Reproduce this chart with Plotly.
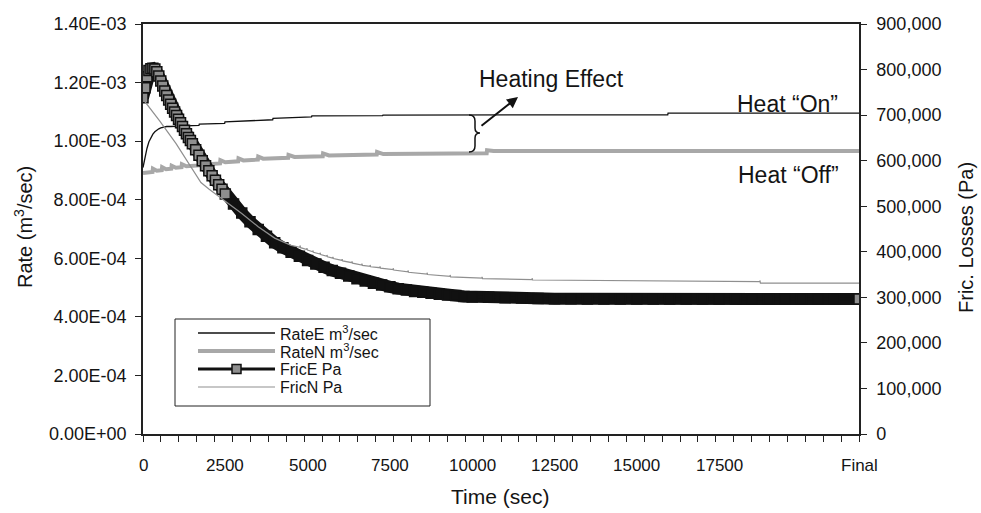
import plotly.graph_objects as go

# ---------------- data ----------------
# time axis labels
x_tick_vals = [0, 2500, 5000, 7500, 10000, 12500, 15000, 17500, 21750]
x_tick_text = ["0", "2500", "5000", "7500", "10000", "12500", "15000", "17500", "Final"]
t_final = 21750

y_left_vals = [0, 0.2e-3, 0.4e-3, 0.6e-3, 0.8e-3, 1.0e-3, 1.2e-3, 1.4e-3]
y_left_text = ["0.00E+00", "2.00E-04", "4.00E-04", "6.00E-04", "8.00E-04",
               "1.00E-03", "1.20E-03", "1.40E-03"]
y_right_vals = [0, 100000, 200000, 300000, 400000, 500000, 600000, 700000, 800000, 900000]
y_right_text = ["0", "100,000", "200,000", "300,000", "400,000", "500,000",
                "600,000", "700,000", "800,000", "900,000"]

series_names = ["RateE m<sup>3</sup>/sec", "RateN m<sup>3</sup>/sec", "FricE Pa", "FricN Pa"]

# RateE  (m3/sec, in units of 1E-03)
t_rateE = [0, 60, 120, 180, 240, 300, 360, 420, 480, 540, 600, 660, 720, 840, 960,
           1100, 1300, 1700, 1710, 2480, 2490, 3940, 3950, 5120, 5130, 7280, 7290,
           15940, 15950, 21750]
rateE_e3 = [0.910, 0.945, 0.975, 0.998, 1.013, 1.024, 1.032, 1.038, 1.042, 1.045,
            1.047, 1.049, 1.050, 1.050, 1.050, 1.051, 1.052, 1.054, 1.058, 1.061,
            1.066, 1.073, 1.078, 1.083, 1.086, 1.087, 1.089, 1.090, 1.096, 1.096]

# RateN  (m3/sec, in units of 1E-03)
t_rateN = [0, 290, 300, 420, 570, 580, 700, 860, 870, 1000, 1170, 1180, 1320,
           1690, 1700, 1850, 2340, 2350, 2500, 2890, 2900, 3050, 3490, 3500, 3650,
           4410, 4420, 4600, 5460, 5470, 5650, 7100, 7110, 7300, 10440, 10450,
           10650, 21750]
rateN_e3 = [0.891, 0.895, 0.906, 0.899, 0.901, 0.911, 0.904, 0.906, 0.916, 0.909,
            0.911, 0.921, 0.914, 0.917, 0.927, 0.920, 0.924, 0.935, 0.928, 0.931,
            0.941, 0.934, 0.937, 0.947, 0.940, 0.943, 0.953, 0.946, 0.948, 0.958,
            0.951, 0.954, 0.963, 0.956, 0.959, 0.969, 0.966, 0.966]

# FricE  (Pa, in thousands)
t_fricE = [0, 60, 120, 180, 240, 300, 360, 420, 480, 540, 600, 660, 720, 780, 840,
           900, 960, 1020, 1080, 1140, 1200, 1260, 1320, 1380, 1440, 1500, 1600,
           1700, 1800, 1900, 2000, 2100, 2200, 2300, 2400, 2500, 2750, 3000, 3250,
           3500, 3750, 4000, 4250, 4500, 4750, 5000, 5250, 5500, 5750, 6000, 6250,
           6500, 6750, 7000, 7250, 7500, 7750, 8000, 8250, 8500, 8750, 9000, 9250,
           9500, 9750, 10000, 10500, 11000, 11500, 12000, 12500, 13000, 13500,
           14000, 14500, 15000, 15500, 16000, 16500, 17000, 17500, 18000, 18500,
           19000, 19500, 20000, 20500, 21000, 21750]
fricE_k = [738, 760, 784, 798, 802, 803, 801, 795, 786, 775, 764, 753, 743, 733, 724,
           715, 707, 699, 691, 683, 675, 667, 659, 651, 644, 637, 624,
           612, 600, 589, 578, 567, 557, 547, 537, 527, 505, 485, 466,
           449, 434, 420, 409, 399, 390, 381, 373, 366, 359, 353, 347,
           341, 336, 331, 327, 323, 319, 316, 313, 311, 309, 307, 305,
           304, 302, 301, 300, 299, 298.5, 297.5, 297, 297, 296.5,
           296.5, 296.5, 296.5, 296.5, 296.5, 296.5, 296.5, 296.5, 296.5, 296.5,
           296.5, 296.5, 296.5, 296.5, 296.5, 296.5]

# FricN  (Pa, in thousands)
t_fricN = [0, 500, 1000, 1500, 1760, 2000, 2500, 3000, 3500, 4000, 4500, 4769,
           4770, 4785, 4979, 4980, 4995, 5159, 5160, 5175, 5379, 5380, 5395, 5589,
           5590, 5605, 5769, 5770, 5785, 6049, 6050, 6065, 6349, 6350, 6365, 6649,
           6650, 6665, 6899, 6900, 6915, 7199, 7200, 7215, 7599, 7600, 7615, 8049,
           8050, 8065, 8629, 8630, 8645, 9329, 9330, 9345, 10299, 10300, 10315,
           11819, 11820, 11835, 18739, 18740, 18755, 21750]
fricN_k = [735, 688, 638, 580, 552, 538, 512, 484, 455, 430, 414, 410,
           414, 409, 405, 408, 404, 400, 403, 399, 395, 398, 394, 390,
           393, 389, 386, 389, 385, 381, 384, 380, 376, 379, 375, 371,
           374, 370, 368, 371, 367, 365, 368, 364, 361, 364, 360, 356,
           359, 355, 351, 354, 350, 346, 349, 345, 342, 345, 341,
           339, 342, 338, 334.5, 337, 331, 331]

# ---------------- figure ----------------
W, H = 981, 513
L, R, T, B = 143, 122, 24, 79
PW, PH = W - L - R, H - T - B


def px(x):   # pixel x -> paper
    return (x - L) / PW


def py(y):   # pixel y -> paper
    return (H - B - y) / PH


FONT = "Liberation Sans, Arial, sans-serif"
TXT = "#141414"
BLACK = "#111111"
GRAY_THICK = "#a8a8a8"
GRAY_THIN = "#8f8f8f"
MARKER_GRAY = "#8e8e8e"
AX = "#222222"

fricE_pa = [v * 1000 for v in fricE_k]
fricN_pa = [v * 1000 for v in fricN_k]
marker_fill = [MARKER_GRAY if (t <= 2500 or t == t_final) else BLACK for t in t_fricE]

style_rateE = dict(color=BLACK, width=1.3)
style_rateN = dict(color=GRAY_THICK, width=4)
style_fricE = dict(color=BLACK, width=3)
style_fricN = dict(color=GRAY_THIN, width=1.2)

fig = go.Figure()
fig.add_trace(go.Scatter(x=t_rateE, y=[v * 1e-3 for v in rateE_e3], mode="lines",
                         name=series_names[0], line=style_rateE))
fig.add_trace(go.Scatter(x=t_rateN, y=[v * 1e-3 for v in rateN_e3], mode="lines",
                         name=series_names[1], line=style_rateN))
# solid band underneath FricE markers
fig.add_trace(go.Scatter(x=t_fricE, y=fricE_pa, mode="lines", yaxis="y2",
                         showlegend=False, hoverinfo="skip",
                         line=dict(color=BLACK, width=12)))
fig.add_trace(go.Scatter(x=t_fricE, y=fricE_pa, mode="lines+markers", yaxis="y2",
                         name=series_names[2], line=style_fricE,
                         marker=dict(symbol="square", size=10, color=marker_fill,
                                     line=dict(color=BLACK, width=1.5))))
fig.add_trace(go.Scatter(x=t_fricN, y=fricN_pa, mode="lines", yaxis="y2",
                         name=series_names[3], line=style_fricN))

grid_ticks = [i * t_final / 40 for i in range(41)]
tick_font = dict(family=FONT, size=18, color=TXT)

fig.update_layout(
    width=W, height=H,
    margin=dict(l=L, r=R, t=T, b=B, pad=0),
    paper_bgcolor="white", plot_bgcolor="white",
    font=dict(family=FONT, color=TXT),
    showlegend=False,
    xaxis=dict(range=[0, t_final], tickmode="array", tickvals=grid_ticks,
               ticks="outside", ticklen=6, tickwidth=1, tickcolor=AX,
               showticklabels=False, showline=True, linecolor=AX,
               linewidth=1.5, mirror=True, showgrid=False, zeroline=False),
    yaxis=dict(range=[0, 1.4e-3], tickmode="array", tickvals=y_left_vals,
               ticktext=y_left_text, ticks="outside", ticklen=6, tickcolor=AX,
               showline=True, linecolor=AX, linewidth=1.5, showgrid=False,
               zeroline=False, ticklabelstandoff=5, tickfont=tick_font),
    yaxis2=dict(range=[0, 900000], overlaying="y", side="right", anchor="x",
                tickmode="array", tickvals=y_right_vals, ticktext=y_right_text,
                ticks="outside", ticklen=6, tickcolor=AX, showline=True,
                linecolor=AX, linewidth=1.5, showgrid=False, zeroline=False,
                ticklabelstandoff=6, tickfont=tick_font),
)

# time-axis labels (category labels placed at their time positions)
for tv, tt in zip(x_tick_vals, x_tick_text):
    fig.add_annotation(xref="x", yref="paper", x=tv, y=py(465), text=tt,
                       showarrow=False, xanchor="center", yanchor="middle",
                       font=dict(family=FONT, size=17, color=TXT))

annos = [
    dict(text="Rate (m<sup>3</sup>/sec)", x=px(23), y=py(227), textangle=-90, size=20),
    dict(text="Fric. Losses (Pa)", x=px(966), y=py(238), textangle=-90, size=20),
    dict(text="Time (sec)", x=px(500), y=py(497), size=21),
    dict(text="Heating Effect", x=px(551), y=py(79), size=23),
    dict(text="Heat \u201cOn\u201d", x=px(787), y=py(104), size=23),
    dict(text="Heat \u201cOff\u201d", x=px(788), y=py(175), size=23),
]
for a in annos:
    size = a.pop("size")
    fig.add_annotation(xref="paper", yref="paper", showarrow=False,
                       xanchor="center", yanchor="middle",
                       font=dict(family=FONT, size=size, color=TXT), **a)

# arrow for "Heating Effect"
fig.add_annotation(xref="paper", yref="paper", x=px(518), y=py(97), text="",
                   showarrow=True, axref="pixel", ayref="pixel", ax=-38, ay=30,
                   arrowhead=2, arrowsize=1.1, arrowwidth=2, arrowcolor=BLACK)

# brace between the two rate curves
path = (f"M {px(469)},{py(115)} Q {px(475)},{py(115)} {px(475)},{py(121)} "
        f"L {px(475)},{py(128)} Q {px(475)},{py(133)} {px(480)},{py(133)} "
        f"Q {px(475)},{py(133)} {px(475)},{py(138)} "
        f"L {px(475)},{py(146)} Q {px(475)},{py(152)} {px(469)},{py(152)}")
fig.add_shape(type="path", path=path, xref="paper", yref="paper",
              line=dict(color=BLACK, width=1.5))

# legend box (drawn to match the reference layout)
fig.add_shape(type="rect", xref="paper", yref="paper",
              x0=px(175), x1=px(430), y0=py(406), y1=py(319),
              line=dict(color=AX, width=1), fillcolor="white", layer="above")
legend_rows = [333, 351, 369, 387]
legend_styles = [style_rateE, style_rateN, style_fricE, style_fricN]
for name, yrow, st in zip(series_names, legend_rows, legend_styles):
    fig.add_shape(type="line", xref="paper", yref="paper",
                  x0=px(198), x1=px(275), y0=py(yrow), y1=py(yrow),
                  line=dict(color=st["color"], width=st["width"]), layer="above")
    fig.add_annotation(xref="paper", yref="paper", x=px(278), y=py(yrow),
                       text=name, showarrow=False, xanchor="left", yanchor="middle",
                       font=dict(family=FONT, size=16, color=TXT))
fig.add_shape(type="rect", xref="paper", yref="paper",
              x0=px(232), x1=px(241), y0=py(373.5), y1=py(364.5),
              line=dict(color=BLACK, width=1.5), fillcolor=MARKER_GRAY, layer="above")

fig.write_html("out.html")
